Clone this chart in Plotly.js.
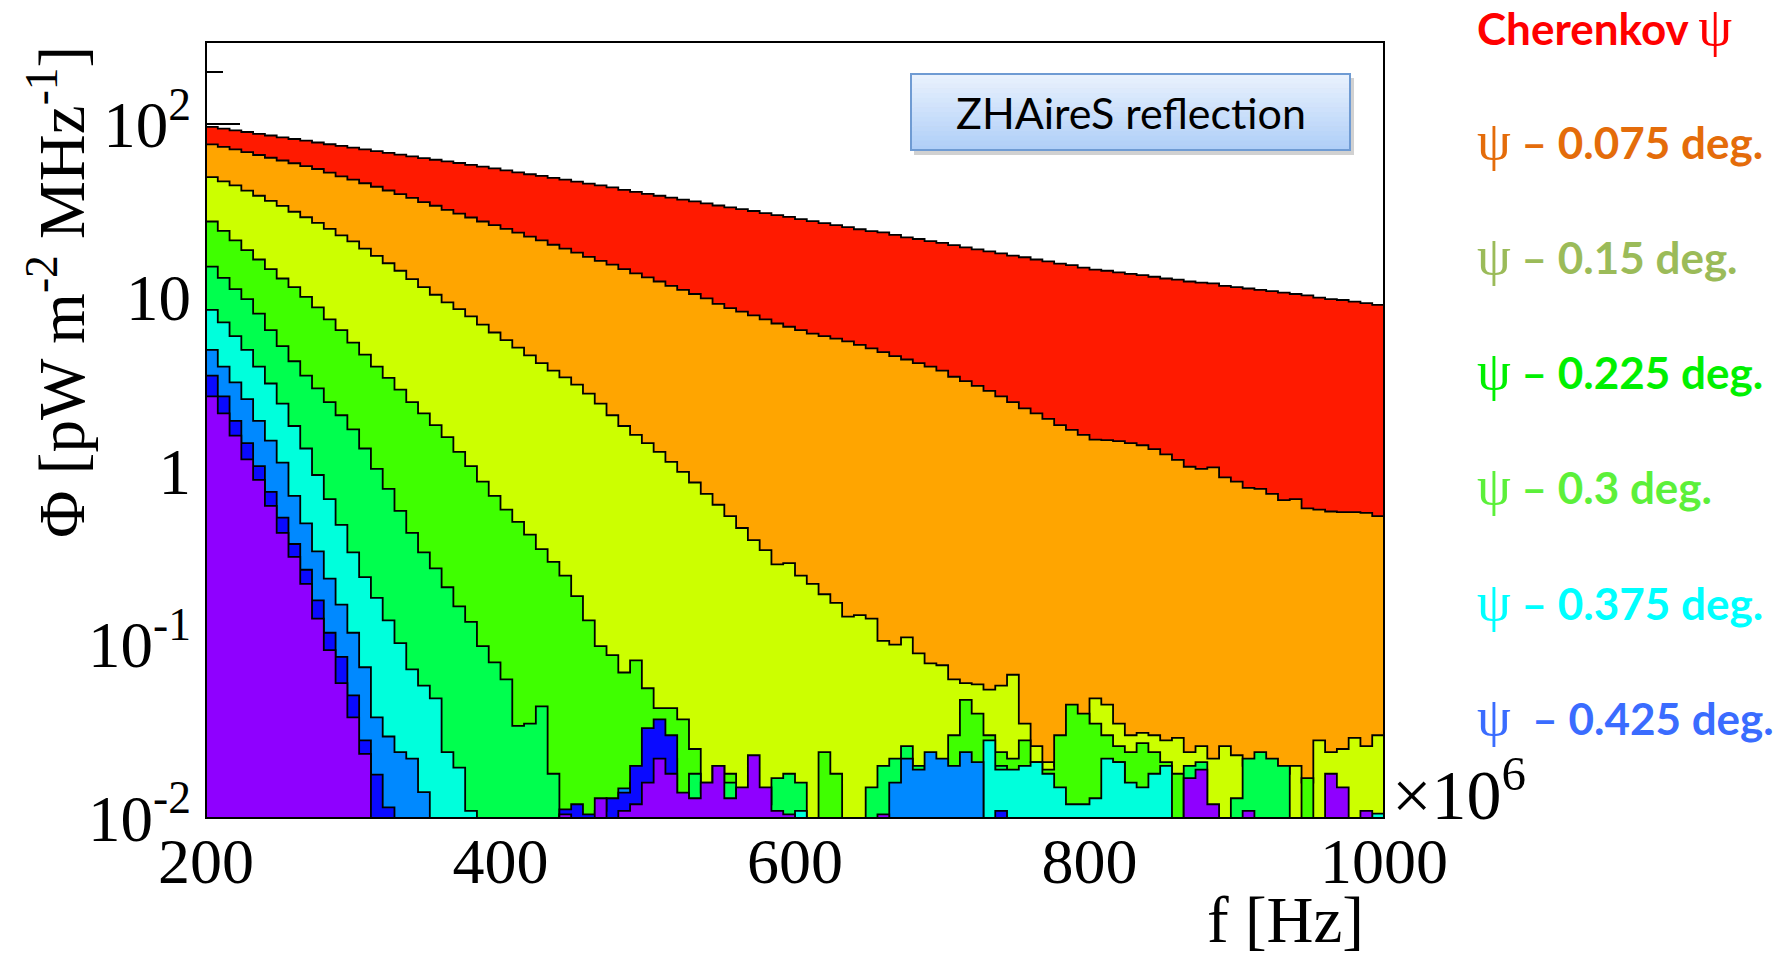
<!DOCTYPE html>
<html><head><meta charset="utf-8">
<script src="https://cdn.plot.ly/plotly-3.0.1.min.js"></script>
<style>html,body{margin:0;padding:0;background:#fff;}#chart{width:1791px;height:953px;}</style>
</head><body><div id="chart"></div>
<script>
// Histogram binning (MHz): 100 bins from 200 to 1000
const BIN_LOW = 200;
const BIN_WIDTH = 8;

// Bin contents, pW m^-2 MHz^-1 (0 = below the 1e-2 axis floor)
const cherenkov = [96.5,94.4,92.3,90.2,88.1,86.1,84.1,82.2,80.4,78.5,
 76.7,75.0,73.3,71.6,70.0,68.4,66.8,65.3,63.8,62.4,
 61.1,59.8,58.3,56.9,55.6,54.2,52.8,51.5,50.4,49.1,
 47.9,46.7,45.5,44.4,43.3,41.8,40.7,39.7,38.7,37.8,
 36.8,35.9,35.0,34.0,33.2,32.4,31.6,30.7,29.9,29.2,
 28.4,27.6,26.9,26.2,25.5,24.8,24.2,23.8,23.0,22.3,
 21.8,21.2,20.7,20.1,19.5,19.0,18.5,18.0,17.5,17.1,
 16.6,16.2,15.7,15.4,14.9,14.5,14.3,14.0,13.7,13.5,
 13.2,12.9,12.7,12.4,12.2,12.1,11.7,11.5,11.3,11.1,
 10.9,10.7,10.5,10.3,10.0,9.8,9.7,9.5,9.3,9.1];
const psi075 = [76.6,74.0,71.6,69.0,66.5,64.1,61.8,59.6,57.4,55.2,
 52.6,50.1,47.9,45.7,43.6,41.5,39.5,37.6,35.6,33.9,
 32.1,30.5,29.0,27.5,26.2,24.9,23.7,22.5,21.4,20.2,
 19.2,18.2,17.2,16.3,15.5,14.6,13.8,13.1,12.4,11.7,
 11.1,10.5,9.9,9.2,8.7,8.3,7.9,7.5,7.1,6.8,
 6.5,6.2,6.0,5.8,5.6,5.35,5.1,4.85,4.6,4.4,
 4.2,4.0,3.8,3.5,3.3,3.1,2.9,2.7,2.5,2.3,
 2.15,2.0,1.84,1.73,1.62,1.52,1.51,1.49,1.45,1.41,
 1.34,1.25,1.16,1.06,1.03,1.05,0.92,0.87,0.80,0.79,
 0.74,0.68,0.69,0.61,0.60,0.585,0.58,0.58,0.575,0.55];
const psi150 = [49.5,46.8,44.4,41.4,38.7,36.2,33.8,31.3,29.1,27.0,
 24.9,22.9,21.1,19.2,17.4,15.8,14.3,12.8,11.5,10.4,
 9.4,8.6,7.8,7.0,6.3,5.7,5.15,4.65,4.2,3.8,
 3.47,3.15,2.8,2.45,2.1,1.82,1.62,1.45,1.29,1.13,
 0.99,0.86,0.74,0.64,0.55,0.47,0.40,0.35,0.29,0.295,
 0.25,0.224,0.195,0.174,0.145,0.148,0.141,0.105,0.10,0.11,
 0.089,0.078,0.076,0.063,0.060,0.059,0.055,0.058,0.067,0.035,
 0.026,0.021,0.020,0.030,0.034,0.049,0.045,0.035,0.030,0.031,
 0.030,0.028,0.029,0.024,0.026,0.022,0.026,0.023,0.020,0.022,
 0.019,0.018,0.020,0.016,0.028,0.024,0.025,0.029,0.026,0.030];
const psi225 = [27.5,24.3,21.4,18.8,16.6,14.6,12.9,11.5,10.1,8.8,
 7.5,6.5,5.5,4.7,4.0,3.45,2.95,2.5,2.15,1.84,
 1.57,1.29,1.07,0.87,0.72,0.60,0.51,0.43,0.355,0.30,
 0.25,0.19,0.138,0.098,0.087,0.069,0.081,0.056,0.043,0.043,
 0.037,0.025,0.016,0.020,0.018,0.014,0.012,0,0,0,
 0,0,0.024,0.018,0,0,0,0,0,0.016,
 0.019,0.020,0.021,0.030,0.048,0.040,0.030,0.024,0.022,0.028,
 0.021,0.019,0.030,0.045,0.040,0.035,0.030,0.026,0.024,0.027,
 0.024,0.021,0.018,0,0,0,0,0,0,0,
 0,0,0,0.017,0,0,0,0,0,0];
const psi300 = [15.1,13.0,11.2,9.8,8.1,6.5,5.25,4.3,3.55,3.0,
 2.5,2.1,1.74,1.35,1.03,0.79,0.59,0.44,0.34,0.275,
 0.214,0.166,0.135,0.098,0.079,0.063,0.034,0.035,0.044,0.018,
 0,0,0,0,0,0,0,0,0,0,
 0.012,0.018,0.014,0.020,0.016,0.012,0,0.012,0.017,0.018,
 0.016,0,0,0,0,0,0.015,0.020,0.022,0.026,
 0.020,0.018,0.021,0.015,0,0,0,0.020,0.017,0.015,
 0,0,0,0,0,0,0,0.021,0,0,
 0,0,0,0.020,0.021,0,0,0.013,0.022,0.024,
 0.022,0.020,0,0,0,0,0,0,0,0];
const psi375 = [8.5,7.2,6.0,5.0,4.0,3.2,2.45,1.82,1.35,0.95,
 0.69,0.49,0.34,0.245,0.186,0.138,0.102,0.072,0.058,0.049,
 0.024,0.0195,0.011,0,0,0,0,0,0,0,
 0.0105,0,0,0,0,0,0,0,0,0,
 0,0,0,0,0,0,0,0,0.0106,0,
 0.011,0,0,0,0,0,0,0,0,0,
 0,0,0,0,0,0,0.028,0.019,0.019,0.020,
 0.021,0.018,0.015,0.012,0.012,0.013,0.022,0.021,0.016,0.015,
 0.018,0.020,0,0,0,0,0,0,0,0,
 0,0,0,0,0,0,0,0,0,0.0106];
const psi400 = [5.0,4.0,3.25,2.6,1.95,1.5,1.12,0.72,0.50,0.345,
 0.24,0.17,0.117,0.074,0.038,0.0295,0.024,0.022,0.0141,0,
 0,0,0,0,0,0,0,0,0,0,
 0,0,0,0,0,0.0148,0.016,0.018,0.025,0.022,
 0,0,0,0,0,0,0,0,0,0,
 0,0,0,0,0,0,0,0,0.016,0.022,
 0.019,0.024,0.022,0.020,0.024,0.021,0,0,0,0,
 0,0,0,0,0,0,0,0,0,0,
 0,0,0,0,0,0,0,0,0,0,
 0,0,0,0,0,0,0,0,0,0];
const psi425 = [3.55,2.7,1.95,1.45,1.07,0.76,0.54,0.38,0.27,0.18,
 0.117,0.085,0.051,0.028,0.0178,0.0115,0,0,0,0,
 0,0,0,0,0,0,0,0,0,0,
 0.0112,0.012,0.0105,0.011,0.013,0.014,0.020,0.033,0.037,0.030,
 0.012,0,0.0105,0,0,0,0,0,0,0,
 0,0,0,0,0,0,0,0,0,0,
 0,0,0,0,0,0,0,0.011,0,0,
 0,0,0,0,0,0,0,0,0,0,
 0,0,0,0,0.0107,0,0,0,0,0,
 0,0,0,0,0,0,0,0,0,0];
const psi450 = [2.7,2.15,1.6,1.17,0.89,0.63,0.44,0.32,0.224,0.141,
 0.093,0.06,0.038,0.0234,0,0,0,0,0,0,
 0,0,0,0,0,0,0,0,0,0,
 0.0105,0,0,0.013,0,0.011,0.012,0.016,0.022,0.018,
 0.014,0.013,0.016,0.020,0.013,0.015,0.023,0.015,0.011,0.0105,
 0,0,0,0,0,0,0,0.0105,0,0,
 0,0,0,0,0,0,0,0,0,0,
 0,0,0,0,0,0,0,0,0,0,
 0,0,0,0.017,0.019,0.012,0,0,0.011,0,
 0,0,0,0,0,0.018,0.015,0,0.011,0];

const seriesData = [cherenkov, psi075, psi150, psi225, psi300, psi375, psi400, psi425, psi450];
const seriesColors = ['#ff1a00','#ffa500','#ccff00','#3fff00','#00ff4e','#00ffdc','#0089ff','#0a0aff','#8f00ff'];

const xTickVals = [200,400,600,800,1000];
const yTickVals = [0.01,0.1,1,10,100];
const yTickText = ['10<sup>-2</sup>','10<sup>-1</sup>','1','10','10<sup>2</sup>'];
const yMinorVals = [];
[0.01,0.1,1,10,100].forEach(d => { for (let k=2;k<=9;k++) yMinorVals.push(d*k); });

const labelTexts = ['Cherenkov ψ','ψ – 0.075 deg.','ψ – 0.15 deg.','ψ – 0.225 deg.','ψ – 0.3 deg.','ψ – 0.375 deg.','ψ\u00a0\u00a0– 0.425 deg.'];
const labelColors = ['#ff0000','#e46c0a','#9bbb59','#00f000','#5cf03a','#00ffff','#3a6cff'];

const traces = seriesData.map((vals, s) => {
  const x = [], y = [];
  for (let i = 0; i < vals.length; i++) {
    x.push(BIN_LOW + i*BIN_WIDTH);
    y.push(vals[i] > 0 ? vals[i] : 1e-4);
  }
  x.push(BIN_LOW + vals.length*BIN_WIDTH);
  y.push(y[y.length-1]);
  return {type:'scatter', mode:'lines', x, y, line:{shape:'hv', color:'#000', width:1.8},
          fill:'tozeroy', fillcolor:seriesColors[s], hoverinfo:'skip'};
});

// pixel helpers for placing decorations (plot area: x 206..1384, y 42..818)
const PL=206, PR=1384, PT=42, PB=818;
const px = v => (v-PL)/(PR-PL);
const py = v => (PB-v)/(PB-PT);

const shapes = [];
// ZHAireS box: shadow + gradient bands + border
const bx0=911, bx1=1350, by0=74, by1=150;
shapes.push({type:'rect', xref:'paper', yref:'paper', x0:px(bx0+3), x1:px(bx1+4), y0:py(by1+5), y1:py(by0+4), fillcolor:'rgba(0,0,0,0.18)', line:{width:0}, layer:'above'});
const nb = 16;
for (let k=0;k<nb;k++){
  const t = k/(nb-1);
  const r = Math.round(232 + (176-232)*t), g = Math.round(241 + (207-241)*t), b = Math.round(253 + (248-253)*t);
  const ya = by0 + (by1-by0)*k/nb, yb = by0 + (by1-by0)*(k+1)/nb;
  shapes.push({type:'rect', xref:'paper', yref:'paper', x0:px(bx0), x1:px(bx1), y0:py(yb+0.5), y1:py(ya), fillcolor:`rgb(${r},${g},${b})`, line:{width:0}, layer:'above'});
}
shapes.push({type:'rect', xref:'paper', yref:'paper', x0:px(bx0), x1:px(bx1), y0:py(by1), y1:py(by0), fillcolor:'rgba(0,0,0,0)', line:{color:'#6f9bd3', width:2}, layer:'above'});
// frame
shapes.push({type:'rect', xref:'paper', yref:'paper', x0:0, x1:1, y0:0, y1:1, line:{color:'#000', width:2}, fillcolor:'rgba(0,0,0,0)', layer:'above'});

const labelY = [27,141,256,371,486,602,717];
const annotations = labelTexts.map((t,i) => {
  const html = t.replace(/ψ/g, '<span style="font-family:\'Liberation Serif\',serif;font-weight:normal;font-size:54px">ψ</span>');
  return {xref:'paper', yref:'paper', x:px(1475), y:py(labelY[i]), xanchor:'left', yanchor:'middle', showarrow:false,
          text:html, font:{family:'Lato, "Open Sans", sans-serif', size:44, color:labelColors[i], weight:700}};
});
annotations.push({xref:'paper', yref:'paper', x:px(1131), y:py(112), xanchor:'center', yanchor:'middle', showarrow:false,
  text:'ZHAireS reflection', font:{family:'Lato, sans-serif', size:43, color:'#000'}});
annotations.push({xref:'paper', yref:'paper', x:px(57), y:py(292), xanchor:'center', yanchor:'middle', showarrow:false, textangle:-90,
  text:'Φ [pW m<sup>-2</sup> MHz<sup>-1</sup>]', font:{family:'Liberation Serif, serif', size:65, color:'#000'}});
annotations.push({xref:'paper', yref:'paper', x:px(1366), y:py(920), xanchor:'right', yanchor:'middle', showarrow:false,
  text:'f [Hz]', font:{family:'Liberation Serif, serif', size:65, color:'#000'}});
annotations.push({xref:'paper', yref:'paper', x:px(1390), y:py(790), xanchor:'left', yanchor:'middle', showarrow:false,
  text:'×10<sup>6</sup>', font:{family:'Liberation Serif, serif', size:70, color:'#000'}});

const layout = {
  width:1791, height:953,
  margin:{l:PL, r:1791-PR, t:PT, b:953-PB},
  paper_bgcolor:'#fff', plot_bgcolor:'#fff',
  showlegend:false,
  xaxis:{range:[200,1000], tickmode:'array', tickvals:xTickVals, ticks:'', showgrid:false, zeroline:false,
         showline:false, tickfont:{family:'Liberation Serif, serif', size:64, color:'#000'}, ticklabelstandoff:0},
  yaxis:{type:'log', range:[-2, Math.log10(298)], tickmode:'array', tickvals:yTickVals, ticktext:yTickText,
         ticks:'inside', ticklen:34, tickwidth:2, tickcolor:'#000', showgrid:false, zeroline:false, showline:false,
         layer:'below traces',
         minor:{tickmode:'array', tickvals:yMinorVals, ticks:'inside', ticklen:17, tickwidth:2, tickcolor:'#000', showgrid:false},
         tickfont:{family:'Liberation Serif, serif', size:65, color:'#000'}, ticklabelstandoff:14},
  shapes, annotations
};

Plotly.newPlot('chart', traces, layout, {displayModeBar:false, staticPlot:true});
</script></body></html>
